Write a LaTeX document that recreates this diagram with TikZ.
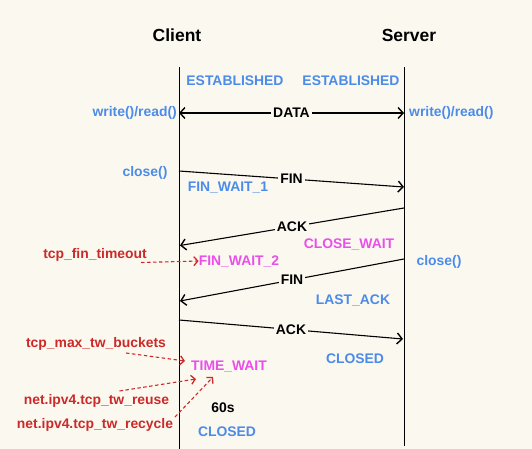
\documentclass[tikz,border=0pt]{standalone}
\usepackage{fontspec}
\setmainfont{Liberation Sans}
\usetikzlibrary{arrows.meta}
\definecolor{bgc}{HTML}{FBF9EF}
\definecolor{stblue}{HTML}{4C8BE8}
\definecolor{stmag}{HTML}{EA4FEA}
\definecolor{stred}{HTML}{CC2A2A}
\tikzset{
  lbl/.style={font=\fontsize{13.9}{15}\selectfont\bfseries, inner sep=0pt},
  blue lbl/.style={lbl, text=stblue},
  mag lbl/.style={lbl, text=stmag},
  red lbl/.style={lbl, text=stred},
  title lbl/.style={font=\fontsize{17.5}{20}\selectfont\bfseries, inner sep=0pt},
  lifeline/.style={draw=black, line width=0.9pt},
  tip/.style={Straight Barb[length=5pt,width=11pt,line width=1.4pt]},
  msg/.style={draw=black, line width=1.1pt, -{Straight Barb[length=5pt,width=11pt,line width=1.4pt]}},
  msglbl/.style={lbl, fill=bgc, inner xsep=2pt, inner ysep=1pt, text=black},
  hint/.style={draw=stred, line width=1.1pt, dash pattern=on 3.5pt off 2.5pt, -{Straight Barb[length=4pt,width=9pt,line width=1.3pt]}}
}
\begin{document}
\begin{tikzpicture}[x=1pt,y=-1pt]
\fill[bgc] (0,0) rectangle (532,449);
\useasboundingbox (0,0) rectangle (532,449);

% titles
\node[title lbl] (client) at (177,35) {Client};
\node[title lbl] (server) at (409,35) {Server};

% lifelines
\coordinate (ctop) at (179,67);
\coordinate (cbot) at (179,449);
\coordinate (stop) at (404,67);
\coordinate (sbot) at (404,446);
\draw[lifeline] (ctop) -- (cbot);
\draw[lifeline] (stop) -- (sbot);

% states
\node[blue lbl] (estc) at (235,81) {ESTABLISHED};
\node[blue lbl] (ests) at (351,81) {ESTABLISHED};
\node[blue lbl, anchor=east] (wrc) at (177,113) {write()/read()};
\node[blue lbl, anchor=west] (wrs) at (409,113) {write()/read()};
\node[blue lbl] (closec) at (145,172.5) {close()};
\node[blue lbl] (fw1) at (228,187.5) {FIN\_WAIT\_1};
\node[mag lbl] (cw) at (349,244.5) {CLOSE\_WAIT};
\node[mag lbl] (fw2) at (239,261) {FIN\_WAIT\_2};
\node[blue lbl] (closes) at (439,261.5) {close()};
\node[blue lbl] (lastack) at (353,300) {LAST\_ACK};
\node[blue lbl] (closeds) at (355,359) {CLOSED};
\node[mag lbl] (tw) at (229,367) {TIME\_WAIT};
\node[lbl] (sixty) at (223,408) {60s};
\node[blue lbl] (closedc) at (227,432) {CLOSED};

% red hints
\node[red lbl] (fto) at (95,255) {tcp\_fin\_timeout};
\node[red lbl] (mtb) at (96,343.5) {tcp\_max\_tw\_buckets};
\node[red lbl] (reuse) at (96.5,400.5) {net.ipv4.tcp\_tw\_reuse};
\node[red lbl] (recycle) at (95,424.5) {net.ipv4.tcp\_tw\_recycle};

% DATA
\coordinate (d1) at (179,113);
\coordinate (d2) at (404,113);
\draw[msg, {Straight Barb[length=5pt,width=11pt,line width=1.4pt]}-{Straight Barb[length=5pt,width=11pt,line width=1.4pt]}] (d1) -- node[msglbl] (data) {DATA} (d2);

% messages
\coordinate (f1a) at (179,171);
\coordinate (f1b) at (404,187);
\draw[msg] (f1a) -- node[msglbl] (fin1) {FIN} (f1b);
\coordinate (a1a) at (404,208);
\coordinate (a1b) at (180,245.5);
\draw[msg] (a1a) -- node[msglbl] (ack1) {ACK} (a1b);
\coordinate (f2a) at (404,259);
\coordinate (f2b) at (180,301);
\draw[msg] (f2a) -- node[msglbl] (fin2) {FIN} (f2b);
\coordinate (a2a) at (179,320);
\coordinate (a2b) at (403,339);
\draw[msg] (a2a) -- node[msglbl] (ack2) {ACK} (a2b);

% hint arrows
\coordinate (h1a) at (141,262.5);
\draw[hint] (h1a) -- (fw2.west);
\coordinate (h2a) at (126,353);
\coordinate (h2b) at (185,361);
\draw[hint] (h2a) -- (h2b);
\coordinate (h3a) at (119.5,391);
\coordinate (h3b) at (196,379);
\draw[hint] (h3a) -- (h3b);
\coordinate (h4a) at (175,417);
\coordinate (h4b) at (213,377);
\draw[hint] (h4a) -- (h4b);
\end{tikzpicture}
\end{document}
